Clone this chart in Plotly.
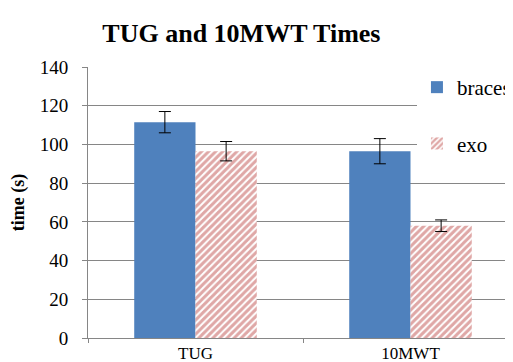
import plotly.graph_objects as go

categories = ["TUG", "10MWT"]
braces = [111.5, 96.5]
braces_err = [5.5, 6.5]
exo = [96.5, 58]
exo_err = [5, 3]
y_ticks = [0, 20, 40, 60, 80, 100, 120, 140]

blue = "#4F81BD"
red = "#C0504D"
font = "Liberation Serif"

fig = go.Figure()
fig.add_trace(go.Bar(
    x=categories, y=braces, name="braces", legendgroup="a",
    marker=dict(color=blue, line=dict(width=0)),
    error_y=dict(type="data", array=braces_err, color="black", thickness=1, width=6),
))
fig.add_trace(go.Bar(
    x=categories, y=exo, name="exo", legendgroup="b",
    marker=dict(color="white", line=dict(width=0),
                pattern=dict(shape="/", fgcolor=red, bgcolor="white", size=5, solidity=0.6)),
    error_y=dict(type="data", array=exo_err, color="black", thickness=1, width=6),
))

fig.update_layout(
    width=513, height=362,
    margin=dict(l=80, r=3, t=59, b=32),
    paper_bgcolor="white", plot_bgcolor="white",
    barmode="group", bargap=0.43, bargroupgap=0,
    title=dict(text="<b>TUG and 10MWT Times</b>", x=0.455, xanchor="center",
               yref="container", y=0.93, yanchor="middle",
               font=dict(family=font, size=26, color="black")),
    font=dict(family=font, color="black", size=18),
    legend=dict(x=0.765, y=1.0, xanchor="left", yanchor="top",
                bgcolor="white", font=dict(family=font, size=21, color="black"),
                tracegroupgap=26, itemwidth=30, itemsizing="constant"),
    showlegend=True,
)
fig.update_xaxes(
    type="category", showline=True, linecolor="#868686", linewidth=1,
    ticks="outside", tickson="boundaries", ticklen=4, tickcolor="#868686",
    tickfont=dict(family=font, size=17, color="black"),
    showgrid=False,
)
fig.update_yaxes(
    range=[0, 140], tickvals=y_ticks, showline=True, linecolor="#868686", linewidth=1,
    ticks="outside", ticklen=5, tickcolor="#868686",
    gridcolor="#868686", gridwidth=1, ticklabelstandoff=10,
    tickfont=dict(family=font, size=19, color="black"),
    title=dict(text="<b>time (s)</b>", font=dict(family=font, size=18, color="black"), standoff=10),
    zeroline=False,
)

fig.write_html("out.html")
